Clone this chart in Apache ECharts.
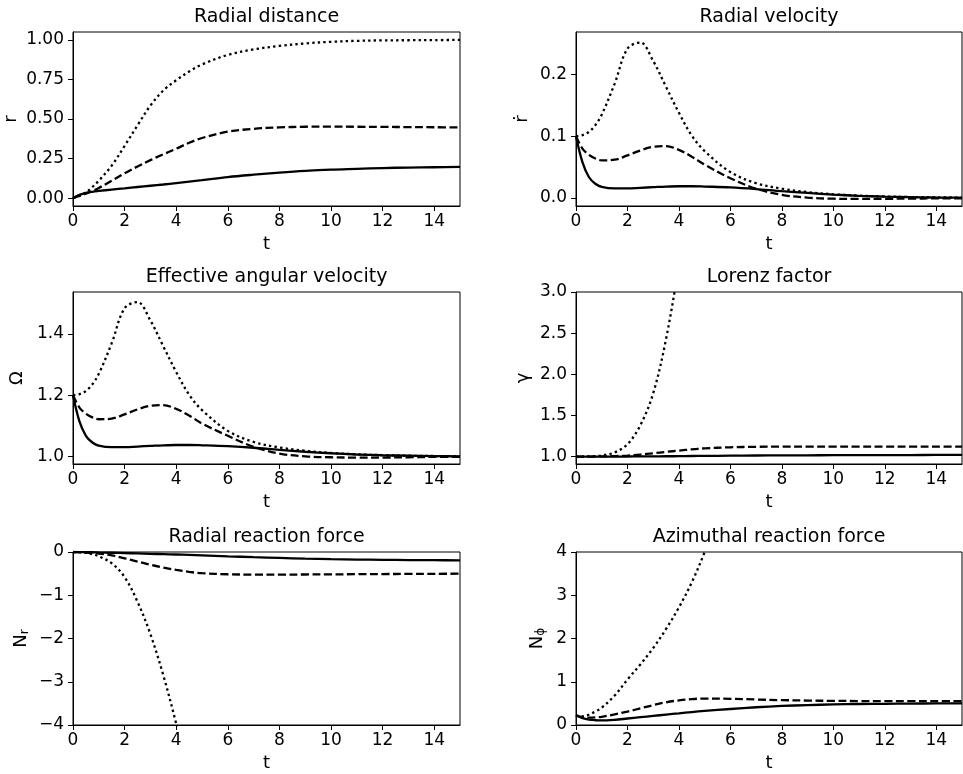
<!DOCTYPE html>
<html>
<head>
<meta charset="utf-8">
<script src="https://cdn.jsdelivr.net/npm/echarts@6/dist/echarts.min.js"></script>
<style>
  html, body { margin: 0; padding: 0; background: #fff; }
  #main { width: 963px; height: 774px; }
</style>
</head>
<body>
<div id="main"></div>
<script>
// time samples shared by all panels
var tVals = [0, 0.25, 0.5, 0.75, 1, 1.5, 2, 2.5, 3, 3.5, 4, 4.5, 5, 6, 7, 8, 9, 10, 11, 12, 13, 14, 15];
var xTicks = [0, 2, 4, 6, 8, 10, 12, 14];

// Radial distance r
var rSolid  = [0, 0.02, 0.033, 0.04, 0.045, 0.054, 0.062, 0.07, 0.078, 0.086, 0.095, 0.104, 0.113, 0.133, 0.148, 0.161, 0.172, 0.18, 0.185, 0.19, 0.193, 0.195, 0.197];
var rDashed = [0, 0.014, 0.028, 0.045, 0.064, 0.11, 0.157, 0.2, 0.24, 0.277, 0.312, 0.35, 0.38, 0.42, 0.438, 0.447, 0.451, 0.452, 0.451, 0.45, 0.449, 0.448, 0.447];
var rDotted = [0, 0.014, 0.035, 0.07, 0.11, 0.205, 0.33, 0.46, 0.585, 0.68, 0.745, 0.8, 0.845, 0.905, 0.94, 0.962, 0.978, 0.988, 0.994, 0.997, 0.998, 0.999, 1.0];
var rTicks = [0, 0.25, 0.5, 0.75, 1.0];

// Radial velocity r-dot
var vSolid  = [0.1, 0.058, 0.034, 0.023, 0.018, 0.0155, 0.0155, 0.0165, 0.0175, 0.0185, 0.019, 0.019, 0.0185, 0.0172, 0.0145, 0.011, 0.0082, 0.0055, 0.0035, 0.0022, 0.0014, 0.0008, 0.0005];
var vDashed = [0.1, 0.08, 0.07, 0.064, 0.061, 0.062, 0.069, 0.077, 0.083, 0.084, 0.078, 0.067, 0.054, 0.032, 0.015, 0.005, 0.0005, -0.0012, -0.0015, -0.0013, -0.001, -0.0007, -0.0005];
var vDotted = [0.1, 0.102, 0.107, 0.118, 0.135, 0.185, 0.242, 0.252, 0.222, 0.18, 0.138, 0.101, 0.076, 0.042, 0.024, 0.015, 0.0095, 0.006, 0.0038, 0.0024, 0.0015, 0.001, 0.0006];
var vTicks = [0, 0.1, 0.2];

// Effective angular velocity Omega
var wSolid  = [1.2, 1.115, 1.068, 1.046, 1.036, 1.031, 1.031, 1.033, 1.035, 1.037, 1.038, 1.038, 1.037, 1.034, 1.029, 1.022, 1.016, 1.011, 1.007, 1.0045, 1.003, 1.002, 1.001];
var wDashed = [1.2, 1.16, 1.14, 1.128, 1.122, 1.124, 1.138, 1.154, 1.166, 1.168, 1.156, 1.134, 1.108, 1.068, 1.032, 1.01, 1.001, 0.998, 0.997, 0.997, 0.998, 0.999, 0.999];
var wDotted = [1.2, 1.204, 1.214, 1.236, 1.27, 1.37, 1.484, 1.504, 1.444, 1.36, 1.276, 1.202, 1.152, 1.084, 1.048, 1.03, 1.019, 1.012, 1.0076, 1.0048, 1.003, 1.002, 1.0012];
var wTicks = [1.0, 1.2, 1.4];

// Lorenz factor gamma
var gSolid  = [1, 1, 1, 1, 1, 1, 1.001, 1.002, 1.003, 1.004, 1.005, 1.007, 1.008, 1.011, 1.013, 1.015, 1.016, 1.017, 1.018, 1.019, 1.019, 1.02, 1.02];
var gDashed = [1, 1, 1, 1.001, 1.002, 1.006, 1.012, 1.025, 1.04, 1.057, 1.073, 1.088, 1.1, 1.113, 1.119, 1.121, 1.122, 1.122, 1.122, 1.122, 1.121, 1.121, 1.12];
var gDotted = [1, 1, 1.002, 1.006, 1.014, 1.05, 1.15, 1.38, 1.77, 2.43, 3.35, 4.6];
var gTicks = [1.0, 1.5, 2.0, 2.5, 3.0];

// Radial reaction force N_r
var nrSolid  = [0, -0.001, -0.003, -0.006, -0.01, -0.017, -0.025, -0.033, -0.042, -0.05, -0.058, -0.068, -0.078, -0.1, -0.12, -0.138, -0.153, -0.165, -0.174, -0.181, -0.186, -0.189, -0.192];
var nrDashed = [0, -0.005, -0.012, -0.022, -0.035, -0.08, -0.145, -0.22, -0.295, -0.36, -0.415, -0.46, -0.49, -0.515, -0.522, -0.522, -0.52, -0.517, -0.513, -0.51, -0.507, -0.504, -0.502];
var nrDotted = [0, -0.005, -0.02, -0.05, -0.1, -0.26, -0.58, -1.15, -1.9, -2.85, -3.97, -5.2];

// Azimuthal reaction force N_phi
var npSolid  = [0.22, 0.16, 0.125, 0.11, 0.105, 0.12, 0.15, 0.18, 0.21, 0.24, 0.27, 0.3, 0.325, 0.37, 0.41, 0.44, 0.46, 0.475, 0.485, 0.49, 0.495, 0.498, 0.5];
var npDashed = [0.22, 0.185, 0.17, 0.175, 0.19, 0.245, 0.31, 0.385, 0.46, 0.525, 0.57, 0.6, 0.612, 0.605, 0.59, 0.575, 0.565, 0.558, 0.554, 0.552, 0.551, 0.55, 0.55];
var npDotted = [0.22, 0.2, 0.24, 0.31, 0.4, 0.68, 1.05, 1.4, 1.78, 2.22, 2.72, 3.3, 4.0, 5.6];

var FONT = 'DejaVu Sans';

function pairs(vals) {
  var out = [];
  for (var i = 0; i < vals.length; i++) out.push([tVals[i], vals[i]]);
  return out;
}
function minusFmt(v) {
  return v < 0 ? '\u2212' + Math.abs(v) : String(v);
}

// panel boxes (left, top, width, height)
var panels = [
  {left: 73,  top: 32,  width: 387, height: 174, title: 'Radial distance',
   yName: 'r', yGap: 53, min: -0.05, max: 1.05, ticks: rTicks, fmt: function (v) { return v.toFixed(2); },
   data: [rSolid, rDashed, rDotted]},
  {left: 576, top: 32,  width: 386, height: 174, title: 'Radial velocity',
   yName: '\u1E59', yGap: 45, min: -0.013, max: 0.269, ticks: vTicks, fmt: function (v) { return v.toFixed(1); },
   data: [vSolid, vDashed, vDotted]},
  {left: 73,  top: 292, width: 387, height: 172, title: 'Effective angular velocity',
   yName: '\u03A9', yGap: 47, min: 0.976, max: 1.537, ticks: wTicks, fmt: function (v) { return v.toFixed(1); },
   data: [wSolid, wDashed, wDotted]},
  {left: 576, top: 292, width: 386, height: 172, title: 'Lorenz factor',
   yName: '\u03B3', yGap: 44, min: 0.91, max: 3.0, ticks: gTicks, fmt: function (v) { return v.toFixed(1); },
   data: [gSolid, gDashed, gDotted]},
  {left: 73,  top: 552, width: 387, height: 173, title: 'Radial reaction force',
   yName: '{m|N}{s|r}', yGap: 42, min: -4, max: 0, ticks: [-4, -3, -2, -1, 0], fmt: minusFmt,
   data: [nrSolid, nrDashed, nrDotted]},
  {left: 576, top: 552, width: 386, height: 173, title: 'Azimuthal reaction force',
   yName: '{m|N}{s|\u03D5}', yGap: 29, min: 0, max: 4, ticks: [0, 1, 2, 3, 4], fmt: minusFmt,
   data: [npSolid, npDashed, npDotted]}
];

var styles = [
  {type: 'solid'},
  {type: [8, 3.5]},
  {type: [2.4, 3.2]}
];

var grids = [], xAxes = [], yAxes = [], series = [], titles = [];
panels.forEach(function (p, i) {
  grids.push({left: p.left, top: p.top, width: p.width, height: p.height,
    show: true, borderColor: '#000', borderWidth: 1, backgroundColor: 'transparent'});
  titles.push({text: p.title, left: p.left + p.width / 2, top: p.top - 24, textAlign: 'center', padding: 0,
    textStyle: {fontFamily: FONT, fontSize: 19, fontWeight: 'normal', color: '#000'}});
  xAxes.push({
    type: 'value', gridIndex: i, min: 0, max: 15,
    name: 't', nameLocation: 'middle', nameGap: 29,
    nameTextStyle: {fontFamily: FONT, fontSize: 18, color: '#000'},
    axisLine: {show: true, onZero: false, lineStyle: {color: '#000', width: 1}},
    axisTick: {show: true, inside: false, length: 5, customValues: xTicks, lineStyle: {color: '#000', width: 1}},
    axisLabel: {show: true, margin: 7, customValues: xTicks, fontFamily: FONT, fontSize: 17, color: '#000'},
    splitLine: {show: false}
  });
  yAxes.push({
    type: 'value', gridIndex: i, min: p.min, max: p.max,
    name: p.yName, nameLocation: 'middle', nameGap: p.yGap, nameRotate: 90,
    nameTextStyle: {fontFamily: FONT, fontSize: 18, color: '#000',
      rich: {m: {fontFamily: FONT, fontSize: 18, color: '#000'},
             s: {fontFamily: FONT, fontSize: 12, color: '#000', verticalAlign: 'bottom', padding: [8, 0, 0, 0]}}},
    axisLine: {show: true, onZero: false, lineStyle: {color: '#000', width: 1}},
    axisTick: {show: true, inside: false, length: 5, customValues: p.ticks, lineStyle: {color: '#000', width: 1}},
    axisLabel: {show: true, margin: 9, customValues: p.ticks, fontFamily: FONT, fontSize: 17, color: '#000',
      formatter: p.fmt},
    splitLine: {show: false}
  });
  p.data.forEach(function (vals, k) {
    series.push({
      type: 'line', xAxisIndex: i, yAxisIndex: i,
      data: pairs(vals), showSymbol: false, smooth: 0.35, clip: true,
      lineStyle: {color: '#000', width: 2.3, type: styles[k].type},
      z: 3 - k
    });
  });
});

var myChart = echarts.init(document.getElementById('main'), null, {renderer: 'canvas'});
myChart.setOption({
  animation: false,
  backgroundColor: '#fff',
  title: titles,
  grid: grids,
  xAxis: xAxes,
  yAxis: yAxes,
  series: series
});
</script>
</body>
</html>
